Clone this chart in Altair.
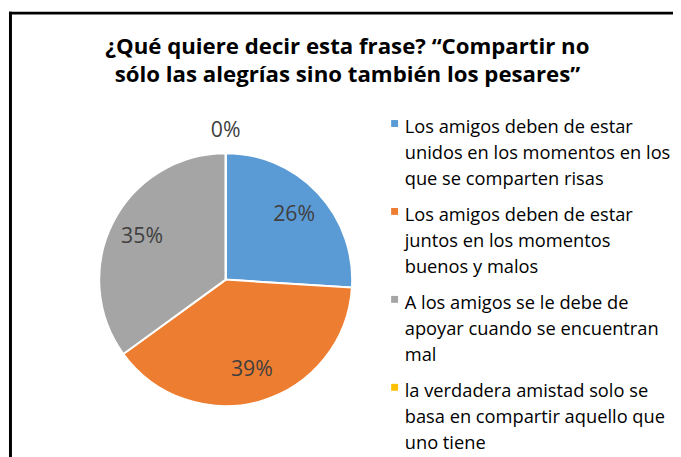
import altair as alt
import pandas as pd

legend_lines = [
    ["Los amigos deben de estar", "unidos en los momentos en los", "que se comparten risas"],
    ["Los amigos deben de estar", "juntos en los momentos", "buenos y malos"],
    ["A los amigos se le debe de", "apoyar cuando se encuentran", "mal"],
    ["la verdadera amistad solo se", "basa en compartir aquello que", "uno tiene"],
]
categories = ["\n".join(l) for l in legend_lines]
values = [26, 39, 35, 0]
pct_labels = ["26%", "39%", "35%", "0%"]
colors = ["#5B9BD5", "#ED7D31", "#A5A5A5", "#FFC000"]
title_lines = ["¿Qué quiere decir esta frase? “Compartir no",
               "sólo las alegrías sino también los pesares”"]

df = pd.DataFrame({"cat": categories, "value": values, "label": pct_labels,
                   "order": list(range(len(categories)))})

FONT = "Open Sans"
CX, CY = 220.3, 272.2

base = alt.Chart(df)
color = alt.Color("cat:N", scale=alt.Scale(domain=categories, range=colors),
                  legend=alt.Legend(title=None, orient="none", legendX=382, legendY=99.5,
                                    symbolType="M-1,0.55H1V2.55H-1Z", symbolSize=49,
                                    symbolStrokeWidth=0,
                                    labelFont=FONT, labelFontSize=18.5, labelColor="black",
                                    labelLimit=400, labelOffset=1, padding=0,
                                    labelExpr="split(datum.label, '\\n')",
                                    labelBaseline="top", rowPadding=8))

arc = base.mark_arc(outerRadius=128, stroke="white", strokeWidth=2).encode(
    theta=alt.Theta("value:Q", stack=True), color=color, order=alt.Order("order:Q"),
    x=alt.value(CX), y=alt.value(CY))

txt = base.mark_text(radius=95, fontSize=21.5, font=FONT, color="#404040").encode(
    theta=alt.Theta("value:Q", stack=True), text="label:N", order=alt.Order("order:Q"),
    x=alt.value(CX), y=alt.value(CY)).transform_filter("datum.value > 0")

txt0 = base.mark_text(radius=150, fontSize=21.5, font=FONT, color="#404040").encode(
    theta=alt.Theta("value:Q", stack=True), text="label:N", order=alt.Order("order:Q"),
    x=alt.value(CX), y=alt.value(CY)).transform_filter("datum.value == 0")

one = pd.DataFrame({"k": [0]})
left = alt.Chart(one).mark_rule(color="black", strokeWidth=3).encode(
    x=alt.value(2.5), y=alt.value(1), y2=alt.value(470))
top = alt.Chart(one).mark_rule(color="black", strokeWidth=3).encode(
    y=alt.value(2.5), x=alt.value(1), x2=alt.value(700))

chart = alt.layer(left, top, arc, txt, txt0).properties(
    width=673, height=449, padding=0, autosize=alt.AutoSizeParams(type="none"),
    title=alt.TitleParams(text=title_lines, font=FONT, fontSize=22.5, fontWeight="bold",
                          color="black", anchor="middle", offset=-100, lineHeight=28.5,
                          frame="group", dx=7, baseline="bottom")
).configure(style={"guide-label": {"lineHeight": 26.5}}).configure_view(stroke=None)

chart.save("out.html", embed_options={"renderer": "svg", "actions": False})
